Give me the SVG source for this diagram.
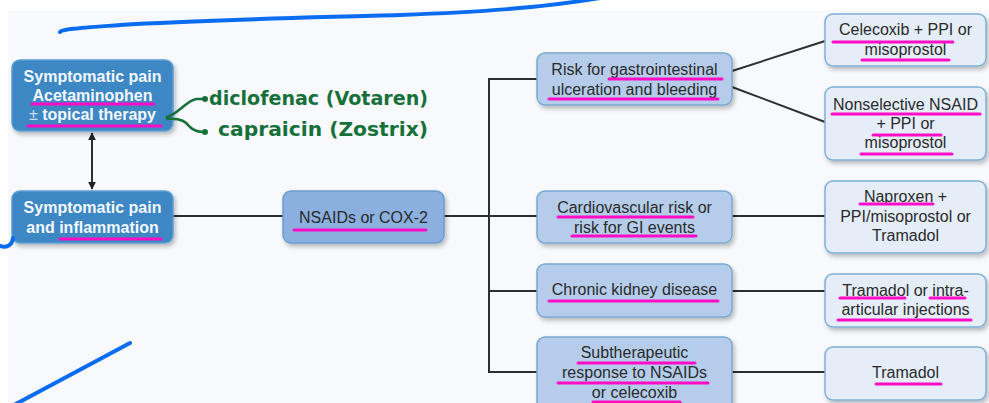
<svg xmlns="http://www.w3.org/2000/svg" width="989" height="403" viewBox="0 0 989 403">
<defs>
<filter id="sh" x="-10%" y="-10%" width="125%" height="135%">
<feDropShadow dx="2" dy="3" stdDeviation="2" flood-color="#000" flood-opacity="0.25"/>
</filter>
<marker id="ah" viewBox="0 0 10 10" refX="9" refY="5" markerWidth="8" markerHeight="8" orient="auto-start-reverse" markerUnits="userSpaceOnUse">
<path d="M0,0 L10,5 L0,10 Z" fill="#222"/>
</marker>
<style>
.dark{fill:#3e87c4;stroke:#5c9fd3;stroke-width:1.5;filter:url(#sh)}
.mid{fill:#8bb0e0;stroke:#6a9dcd;stroke-width:1.5;filter:url(#sh)}
.lt{fill:#b5cdea;stroke:#79a9d1;stroke-width:1.5;filter:url(#sh)}
.pale{fill:#e4edf8;stroke:#7db0d6;stroke-width:1.5;filter:url(#sh)}
.tw{font-family:"Liberation Sans",Arial,sans-serif;font-size:16px;font-weight:bold;fill:#f4f8fc;text-anchor:middle}
.td{font-family:"Liberation Sans",Arial,sans-serif;font-size:16px;fill:#2a2a2a;text-anchor:middle}
.ul{stroke:#ff0cc6;stroke-width:3;stroke-linecap:round;fill:none}
.cn{stroke:#2e2e2e;stroke-width:2;fill:none}
.pen{stroke:#0a6cf0;stroke-width:4;fill:none;stroke-linecap:round;stroke-linejoin:round}
.grn{stroke:#16703a;stroke-width:2.5;fill:none;stroke-linecap:round}
.gt{font-family:"DejaVu Sans","Liberation Sans",sans-serif;font-size:20px;font-weight:bold;fill:#16703a}
</style>
</defs>
<rect x="0" y="0" width="989" height="403" fill="#ffffff"/>
<rect x="8" y="10" width="981" height="393" fill="#f7f9fc"/>

<g id="connectors">
<line class="cn" x1="92" y1="133" x2="92" y2="189" marker-start="url(#ah)" marker-end="url(#ah)"/>
<line class="cn" x1="173" y1="216" x2="283" y2="216"/>
<line class="cn" x1="444" y1="216" x2="537" y2="216"/>
<polyline class="cn" points="537,79 489,79 489,372 537,372"/>
<line class="cn" x1="489" y1="291" x2="537" y2="291"/>
<line class="cn" x1="732" y1="71" x2="825" y2="41"/>
<line class="cn" x1="732" y1="87" x2="825" y2="122"/>
<line class="cn" x1="732" y1="216" x2="825" y2="216"/>
<line class="cn" x1="732" y1="291" x2="825" y2="291"/>
<line class="cn" x1="732" y1="372" x2="825" y2="372"/>
</g>

<g id="node-acetaminophen">
<rect class="dark" x="12" y="60" width="161" height="71" rx="8"/>
<text class="tw" x="92.5" y="82">Symptomatic pain</text>
<text class="tw" x="92.5" y="101">Acetaminophen</text>
<text class="tw" x="92.5" y="120"><tspan font-weight="normal" fill="#c9def0">±</tspan> topical therapy</text>
<line class="ul" x1="32" y1="104" x2="154" y2="104"/>
<line class="ul" x1="28" y1="126" x2="161" y2="126"/>
</g>

<g id="node-inflammation">
<rect class="dark" x="12" y="191" width="161" height="52" rx="8"/>
<text class="tw" x="92.5" y="213">Symptomatic pain</text>
<text class="tw" x="92.5" y="233">and inflammation</text>
<line class="ul" x1="60" y1="239" x2="161" y2="239"/>
</g>

<g id="node-nsaids">
<rect class="mid" x="283" y="191" width="161" height="52" rx="8"/>
<text class="td" x="363.5" y="223">NSAIDs or COX-2</text>
<line class="ul" x1="294" y1="230" x2="426" y2="230"/>
</g>

<g id="node-gi-risk">
<rect class="lt" x="537" y="53" width="195" height="52" rx="8"/>
<text class="td" x="634.5" y="75">Risk for gastrointestinal</text>
<text class="td" x="634.5" y="95">ulceration and bleeding</text>
<line class="ul" x1="609" y1="79" x2="722" y2="79"/>
<line class="ul" x1="549" y1="99" x2="718" y2="99"/>
</g>

<g id="node-cardio">
<rect class="lt" x="537" y="191" width="195" height="52" rx="8"/>
<text class="td" x="634.5" y="213">Cardiovascular risk or</text>
<text class="td" x="634.5" y="233">risk for GI events</text>
<line class="ul" x1="558" y1="217" x2="693" y2="217"/>
<line class="ul" x1="572" y1="236" x2="696" y2="236"/>
</g>

<g id="node-ckd">
<rect class="lt" x="537" y="264" width="195" height="53" rx="8"/>
<text class="td" x="634.5" y="295">Chronic kidney disease</text>
<line class="ul" x1="549" y1="301" x2="718" y2="301"/>
</g>

<g id="node-subtherapeutic">
<rect class="lt" x="537" y="337" width="195" height="76" rx="8"/>
<text class="td" x="634.5" y="358">Subtherapeutic</text>
<text class="td" x="634.5" y="378">response to NSAIDs</text>
<text class="td" x="634.5" y="398">or celecoxib</text>
<line class="ul" x1="578" y1="363" x2="695" y2="363"/>
<line class="ul" x1="558" y1="383" x2="708" y2="383"/>
<line class="ul" x1="593" y1="402" x2="680" y2="402"/>
</g>

<g id="node-celecoxib">
<rect class="pale" x="825" y="14" width="161" height="52" rx="8"/>
<text class="td" x="905.5" y="35">Celecoxib + PPI or</text>
<text class="td" x="905.5" y="55">misoprostol</text>
<line class="ul" x1="833" y1="42" x2="953" y2="42"/>
<line class="ul" x1="862" y1="60" x2="949" y2="60"/>
</g>

<g id="node-nonselective">
<rect class="pale" x="825" y="87" width="161" height="73" rx="8"/>
<text class="td" x="905.5" y="110">Nonselective NSAID</text>
<text class="td" x="905.5" y="129">+ PPI or</text>
<text class="td" x="905.5" y="148">misoprostol</text>
<line class="ul" x1="832" y1="114" x2="980" y2="114"/>
<line class="ul" x1="873" y1="135" x2="941" y2="135"/>
<line class="ul" x1="861" y1="154" x2="952" y2="154"/>
</g>

<g id="node-naproxen">
<rect class="pale" x="825" y="181" width="161" height="72" rx="8"/>
<text class="td" x="905.5" y="202">Naproxen +</text>
<text class="td" x="905.5" y="222">PPI/misoprostol or</text>
<text class="td" x="905.5" y="241">Tramadol</text>
<line class="ul" x1="860" y1="204" x2="933" y2="204"/>
</g>

<g id="node-tramadol-intra">
<rect class="pale" x="825" y="274" width="161" height="53" rx="8"/>
<text class="td" x="905.5" y="296">Tramadol or intra-</text>
<text class="td" x="905.5" y="315">articular injections</text>
<line class="ul" x1="840" y1="298" x2="905" y2="298"/>
<line class="ul" x1="930" y1="298" x2="965" y2="298"/>
<line class="ul" x1="838" y1="320" x2="971" y2="320"/>
</g>

<g id="node-tramadol">
<rect class="pale" x="825" y="347" width="161" height="53" rx="8"/>
<text class="td" x="905.5" y="378">Tramadol</text>
<line class="ul" x1="876" y1="384" x2="941" y2="384"/>
</g>

<g id="annotations">
<path class="pen" d="M60,32 C62,29 80,28 120,25 C200,20 300,18 400,15 C480,12 540,8 600,-2"/>
<path class="pen" d="M0,246 C6,248 12,246 13,238"/>
<path class="pen" d="M130,343 L14,405"/>
<path class="grn" d="M167,117 C178,114 186,101 196,99 L204,99"/>
<circle cx="205" cy="99" r="3" fill="#16703a"/>
<path class="grn" d="M167,119 C182,118 186,122 190,127 C194,131 198,132 204,132"/>
<circle cx="205" cy="132" r="3" fill="#16703a"/>
<text class="gt" x="209" y="105" textLength="219" lengthAdjust="spacingAndGlyphs">diclofenac (Votaren)</text>
<text class="gt" x="218" y="136" textLength="210" lengthAdjust="spacingAndGlyphs">capraicin (Zostrix)</text>
</g>
</svg>
